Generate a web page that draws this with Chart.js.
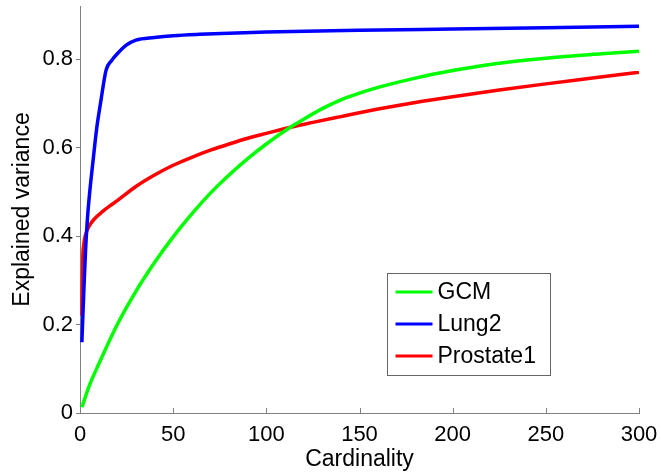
<!DOCTYPE html>
<html>
<head>
<meta charset="utf-8">
<script src="https://cdn.jsdelivr.net/npm/chart.js@4/dist/chart.umd.min.js"></script>
<style>
html,body{margin:0;padding:0;background:#fff;}
#wrap{width:661px;height:473px;}
</style>
</head>
<body>
<div id="wrap"><canvas id="c" width="661" height="473"></canvas></div>
<script>
// ---- data ----
const gcmX   = [1, 5, 10, 20, 30, 40, 50, 60, 70, 80, 90, 100, 110, 120, 130, 140, 150, 160, 180, 200, 220, 240, 260, 280, 300];
const gcmY   = [0.013, 0.062, 0.11, 0.2, 0.275, 0.34, 0.398, 0.45, 0.497, 0.538, 0.575, 0.608, 0.638, 0.664, 0.688, 0.708, 0.723, 0.736, 0.757, 0.774, 0.788, 0.798, 0.806, 0.812, 0.818];

const lungX  = [1, 2, 3, 4, 5, 7, 9, 11, 14, 17, 20, 25, 30, 40, 50, 64, 100, 150, 200, 250, 300];
const lungY  = [0.16, 0.27, 0.37, 0.44, 0.49, 0.57, 0.645, 0.70, 0.775, 0.797, 0.812, 0.832, 0.843, 0.849, 0.853, 0.856, 0.861, 0.865, 0.868, 0.871, 0.874];

const prosX  = [1, 1.5, 2, 3, 5, 8, 12, 16, 20, 30, 40, 50, 60, 70, 80, 90, 100, 113, 125, 140, 160, 180, 200, 225, 250, 275, 300];
const prosY  = [0.22, 0.35, 0.38, 0.403, 0.423, 0.44, 0.455, 0.468, 0.48, 0.512, 0.538, 0.56, 0.578, 0.594, 0.608, 0.621, 0.632, 0.646, 0.657, 0.67, 0.687, 0.702, 0.715, 0.73, 0.744, 0.757, 0.77];

const seriesNames = ['GCM', 'Lung2', 'Prostate1'];
const xTicks = [0, 50, 100, 150, 200, 250, 300];
const yTicks = [0, 0.2, 0.4, 0.6, 0.8];
const xTitle = 'Cardinality';
const yTitle = 'Explained variance';

const FONT = 'Liberation Sans, Arial, sans-serif';
const AXIS_GREY = '#808080';

function pts(xs, ys){ return xs.map((x,i)=>({x:x, y:ys[i]})); }

const innerTicks = {
  id: 'innerTicks',
  afterDatasetsDraw(chart){
    const ctx = chart.ctx, xs = chart.scales.x;
    const b = chart.chartArea.bottom;
    ctx.save();
    ctx.strokeStyle = AXIS_GREY;
    ctx.lineWidth = 1;
    xTicks.forEach(v=>{
      const px = Math.round(xs.getPixelForValue(v)) + 0.5;
      ctx.beginPath(); ctx.moveTo(px, b); ctx.lineTo(px, b - 5); ctx.stroke();
    });
    ctx.restore();
  }
};

const boxLegend = {
  id: 'boxLegend',
  afterDraw(chart){
    const ctx = chart.ctx;
    const L = 387.5, T = 273.5, W = 163, H = 102;
    ctx.save();
    ctx.fillStyle = '#fff';
    ctx.fillRect(L, T, W, H);
    ctx.strokeStyle = '#666';
    ctx.lineWidth = 1;
    ctx.strokeRect(L, T, W, H);
    ctx.font = '23px ' + FONT;
    ctx.textBaseline = 'middle';
    ctx.fillStyle = '#000';
    chart.data.datasets.forEach((ds, i)=>{
      const y = T + 18.5 + i * 32;
      ctx.strokeStyle = ds.borderColor;
      ctx.lineWidth = 3;
      ctx.beginPath(); ctx.moveTo(L + 8, y); ctx.lineTo(L + 45, y); ctx.stroke();
      ctx.fillText(ds.label, L + 50, y + 1);
    });
    ctx.restore();
  }
};

new Chart(document.getElementById('c'), {
  type: 'scatter',
  data: {
    datasets: [
      {label: seriesNames[0], data: pts(gcmX, gcmY),  borderColor: '#00ff00'},
      {label: seriesNames[1], data: pts(lungX, lungY), borderColor: '#0000ff'},
      {label: seriesNames[2], data: pts(prosX, prosY), borderColor: '#ff0000'}
    ].map(d=>Object.assign(d, {showLine:true, pointRadius:0, borderWidth:3.5, fill:false, cubicInterpolationMode:'monotone'}))
  },
  options: {
    responsive: false,
    animation: false,
    layout: {padding: {left: 0, right: 22, top: 6, bottom: 0}},
    plugins: {legend: {display: false}, tooltip: {enabled: false}},
    scales: {
      x: {
        type: 'linear', min: 0, max: 300,
        afterBuildTicks(s){ s.ticks = xTicks.map(v=>({value:v})); },
        afterFit(s){ s.height = 60; s.paddingLeft = 0; s.paddingRight = 0; },
        grid: {display: true, drawOnChartArea: false, drawTicks: false, color: AXIS_GREY},
        border: {display: true, color: AXIS_GREY, width: 1},
        ticks: {color: '#000', font: {family: FONT, size: 22}, padding: 9, maxRotation: 0, autoSkip: false},
        title: {display: true, text: xTitle, color: '#000', font: {family: FONT, size: 23}, padding: {top: 0, bottom: 0}}
      },
      y: {
        type: 'linear', min: 0, max: 0.92,
        afterBuildTicks(s){ s.ticks = yTicks.map(v=>({value:v})); },
        afterFit(s){ s.width = 80; s.paddingTop = 0; s.paddingBottom = 0; },
        grid: {display: true, drawOnChartArea: false, drawTicks: true, tickLength: 4, color: AXIS_GREY},
        border: {display: true, color: AXIS_GREY, width: 1},
        ticks: {color: '#000', font: {family: FONT, size: 22}, padding: 3, autoSkip: false, callback: v => String(v)},
        title: {display: true, text: yTitle, color: '#000', font: {family: FONT, size: 23}, padding: {top: 9, bottom: 0}}
      }
    }
  },
  plugins: [innerTicks, boxLegend]
});
</script>
</body>
</html>
